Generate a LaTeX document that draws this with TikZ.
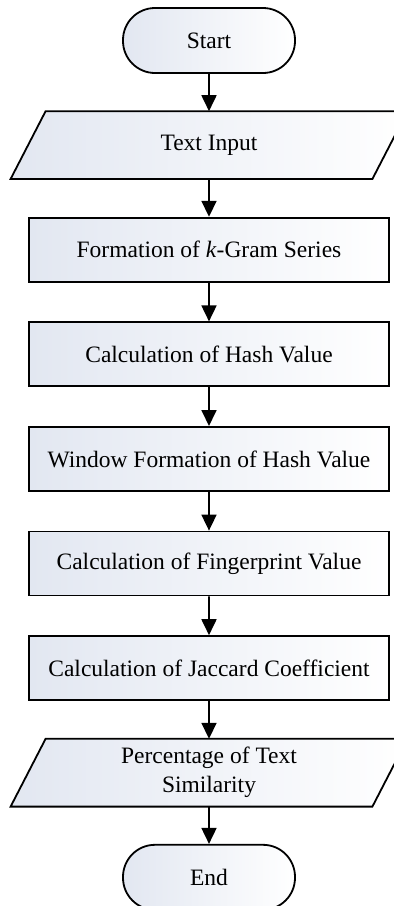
\documentclass[tikz,border=0pt]{standalone}
\usepackage{fontspec}
\setmainfont{Liberation Serif}
\usetikzlibrary{arrows.meta, backgrounds}
\definecolor{boxfill}{RGB}{226,231,241}
\tikzset{
  flownode/.style = {align=center, inner sep=0pt, text centered,
    font=\fontsize{23.5}{29}\selectfont},
  flow_fill/.style = {draw=black, line width=1.8pt,
    left color=boxfill, right color=white},
  flow_term/.style = {flownode, flow_fill, rectangle, rounded corners=32pt,
    minimum width=172pt, minimum height=65pt},
  flow_box/.style = {flownode, flow_fill, rectangle, minimum width=360pt,
    minimum height=64pt},
  flow_io/.style = {flownode, rectangle, minimum width=360pt,
    minimum height=66pt}}

\begin{document}
\begin{tikzpicture}[-{Triangle[width=15pt,length=16pt]}, line width=1.8pt,
  level distance=104.6pt]
\useasboundingbox (0,0) rectangle (394pt,-906pt);

\node [flow_term] (start) at (209pt,-40.5pt) {Start}
	child{ node [flow_io] (input) {Text Input}
		child{ node [flow_box] (kgram) {Formation of \textit{k}-Gram Series}
			child{ node [flow_box] (hash) {Calculation of Hash Value}
				child{ node [flow_box] (window) {Window Formation of Hash Value}
					child{ node [flow_box] (finger) {Calculation of Fingerprint Value}
						child{ node [flow_box] (jaccard) {Calculation of Jaccard Coefficient}
							child{ node [flow_io] (result) {Percentage of Text\\Similarity}
								child{ node [flow_term] (end) {End} }
							}
						}
					}
				}
			}
		}
	}
;

% slanted frames of the input/output nodes
\begin{scope}[on background layer]
\foreach \n in {input, result}
	\draw [flow_fill] ([xshift=-17.5pt]\n.south west) -- ([xshift=17.5pt]\n.north west)
		-- ([xshift=17.5pt]\n.north east) -- ([xshift=-17.5pt]\n.south east) -- cycle;
\end{scope}
\end{tikzpicture}
\end{document}
